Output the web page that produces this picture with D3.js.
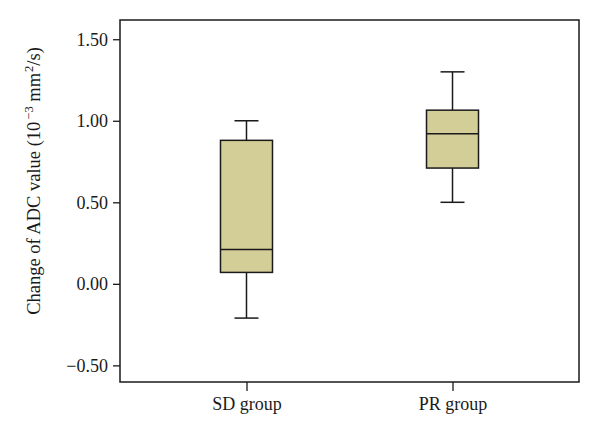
<!DOCTYPE html>
<html>
<head>
<meta charset="utf-8">
<script src="https://cdn.jsdelivr.net/npm/d3@7"></script>
<style>
html,body{margin:0;padding:0;background:#fff;}
svg text{font-family:"Liberation Serif","DejaVu Serif",serif;fill:#1a1a1a;}
</style>
</head>
<body>
<svg id="chart" width="600" height="438"></svg>
<script>
const categories = ["SD group", "PR group"];
const mins    = [-0.21, 0.50];
const q1s     = [0.07, 0.71];
const medians = [0.21, 0.92];
const q3s     = [0.88, 1.065];
const maxs    = [1.00, 1.30];
const yTicks  = [-0.5, 0, 0.5, 1.0, 1.5];

const svg = d3.select("#chart");
const mLeft = 120, mRight = 579, mTop = 20, mBottom = 382;

const x = d3.scalePoint().domain(categories).range([mLeft, mRight]).padding(0.614);
const y = d3.scaleLinear().domain([-0.602, 1.618]).range([mBottom, mTop]);

const boxW = 52, capW = 24;
const data = categories.map((c, i) => ({c, min: mins[i], q1: q1s[i], med: medians[i], q3: q3s[i], max: maxs[i]}));

// frame
svg.append("rect").attr("x", mLeft).attr("y", mTop).attr("width", mRight - mLeft).attr("height", mBottom - mTop)
  .attr("fill", "none").attr("stroke", "#1a1a1a").attr("stroke-width", 1.5);

// y axis
const yAxis = d3.axisLeft(y).tickValues(yTicks).tickSize(7).tickPadding(5)
  .tickFormat(d => (d < 0 ? "\u2212" : "") + Math.abs(d).toFixed(2));
const gy = svg.append("g").attr("transform", `translate(${mLeft},0)`).call(yAxis);
gy.select(".domain").remove();
gy.selectAll(".tick line").attr("stroke", "#1a1a1a").attr("stroke-width", 1.3);
gy.selectAll(".tick text").attr("font-size", 18).attr("fill", "#1a1a1a");

// x axis
const xAxis = d3.axisBottom(x).tickSize(9).tickPadding(6);
const gx = svg.append("g").attr("transform", `translate(0,${mBottom})`).call(xAxis);
gx.select(".domain").remove();
gx.selectAll(".tick line").attr("stroke", "#1a1a1a").attr("stroke-width", 1.3);
gx.selectAll(".tick text").attr("font-size", 18).attr("fill", "#1a1a1a");

// y label
const lab = svg.append("text").attr("transform", `translate(40,181) rotate(-90)`)
  .attr("text-anchor", "middle").attr("font-size", 18.5);
lab.append("tspan").text("Change of ADC value (10");
lab.append("tspan").attr("dy", -7).attr("font-size", 12.5).attr("dx", 2).text("\u22123");
lab.append("tspan").attr("dy", 7).text("\u00a0mm");
lab.append("tspan").attr("dy", -7).attr("font-size", 12.5).attr("dx", 1).text("2");
lab.append("tspan").attr("dy", 7).text("/s)");

// boxes
const g = svg.append("g").selectAll("g").data(data).join("g");
g.append("line").attr("x1", d => x(d.c)).attr("x2", d => x(d.c))
  .attr("y1", d => y(d.max)).attr("y2", d => y(d.q3)).attr("stroke", "#1a1a1a").attr("stroke-width", 1.5);
g.append("line").attr("x1", d => x(d.c)).attr("x2", d => x(d.c))
  .attr("y1", d => y(d.q1)).attr("y2", d => y(d.min)).attr("stroke", "#1a1a1a").attr("stroke-width", 1.5);
g.append("line").attr("x1", d => x(d.c) - capW / 2).attr("x2", d => x(d.c) + capW / 2)
  .attr("y1", d => y(d.max)).attr("y2", d => y(d.max)).attr("stroke", "#1a1a1a").attr("stroke-width", 1.5);
g.append("line").attr("x1", d => x(d.c) - capW / 2).attr("x2", d => x(d.c) + capW / 2)
  .attr("y1", d => y(d.min)).attr("y2", d => y(d.min)).attr("stroke", "#1a1a1a").attr("stroke-width", 1.5);
g.append("rect").attr("x", d => x(d.c) - boxW / 2).attr("width", boxW)
  .attr("y", d => y(d.q3)).attr("height", d => y(d.q1) - y(d.q3))
  .attr("fill", "#d3cd98").attr("stroke", "#1a1a1a").attr("stroke-width", 1.5);
g.append("line").attr("x1", d => x(d.c) - boxW / 2).attr("x2", d => x(d.c) + boxW / 2)
  .attr("y1", d => y(d.med)).attr("y2", d => y(d.med)).attr("stroke", "#1a1a1a").attr("stroke-width", 1.5);
</script>
</body>
</html>
